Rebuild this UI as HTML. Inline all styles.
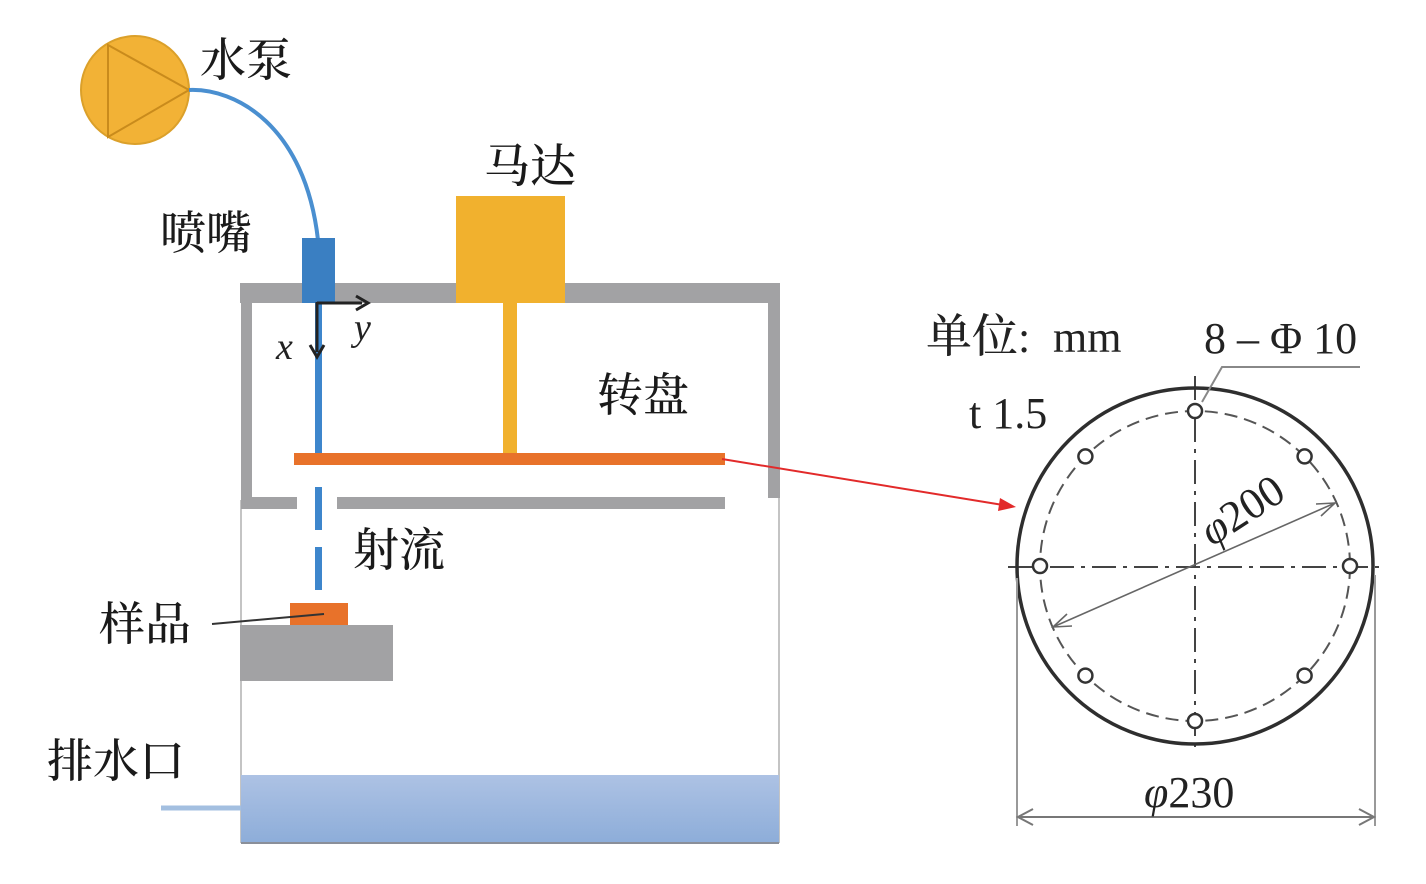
<!DOCTYPE html>
<html><head><meta charset="utf-8"><style>
html,body{margin:0;padding:0;background:#fff;}
svg{display:block;}
.cn{font-family:"Liberation Serif","Noto Serif CJK SC",serif;font-weight:500;font-size:46px;fill:#1a1a1a;}
.lt{font-family:"Liberation Serif","Noto Serif CJK SC",serif;font-size:44px;fill:#222;}
</style></head><body>
<svg width="1426" height="884" viewBox="0 0 1426 884" xmlns="http://www.w3.org/2000/svg">
<defs>
<linearGradient id="wg" x1="0" y1="0" x2="0" y2="1">
<stop offset="0" stop-color="#adc2e4"/><stop offset="1" stop-color="#8dadd9"/>
</linearGradient>
</defs>
<rect width="1426" height="884" fill="#fff"/>

<!-- pump -->
<circle cx="135" cy="90" r="54" fill="#f2b236" stroke="#dba02a" stroke-width="2"/>
<polygon points="108,45 108,137 189,90" fill="none" stroke="#c98b1c" stroke-width="2"/>
<!-- pipe -->
<path d="M189,90 C235,88 305,125 318,240" fill="none" stroke="#4a8fd0" stroke-width="4"/>
<!-- nozzle -->
<rect x="302" y="238" width="33" height="65" fill="#3a7fc2"/>

<!-- tank lower outline -->
<line x1="241" y1="500" x2="241" y2="843" stroke="#c4c4c4" stroke-width="2"/>
<line x1="779" y1="497" x2="779" y2="843" stroke="#c4c4c4" stroke-width="2"/>
<rect x="241" y="775" width="538" height="68" fill="url(#wg)"/>
<line x1="241" y1="843" x2="779" y2="843" stroke="#8a8f99" stroke-width="2"/>
<line x1="161" y1="808" x2="241" y2="808" stroke="#a3bfe0" stroke-width="5"/>

<!-- walls -->
<rect x="240" y="283" width="540" height="20" fill="#a2a2a4"/>
<rect x="241" y="283" width="11" height="220" fill="#a2a2a4"/>
<rect x="768" y="283" width="12" height="215" fill="#a2a2a4"/>
<rect x="241" y="497" width="56" height="12" fill="#a2a2a4"/>
<rect x="337" y="497" width="388" height="12" fill="#a2a2a4"/>
<rect x="302" y="283" width="33" height="20" fill="#3a7fc2"/>

<!-- motor -->
<rect x="456" y="196" width="109" height="107" fill="#f1b12e"/>
<rect x="503" y="303" width="14" height="152" fill="#f1b12e"/>

<!-- jet -->
<rect x="315" y="303" width="7" height="151" fill="#3d86cc"/>
<rect x="315" y="487" width="7" height="43" fill="#3d86cc"/>
<rect x="315" y="547" width="7" height="43" fill="#3d86cc"/>

<!-- disk -->
<rect x="294" y="453" width="431" height="12" fill="#e8722a"/>

<!-- axes -->
<line x1="317" y1="303" x2="362" y2="303" stroke="#222" stroke-width="3"/>
<polyline points="356,296 368,303 356,310" fill="none" stroke="#222" stroke-width="3"/>
<line x1="317" y1="302" x2="317" y2="352" stroke="#222" stroke-width="3"/>
<polyline points="310,345 317,357 324,345" fill="none" stroke="#222" stroke-width="3"/>
<text x="276" y="359" style="font-family:'Liberation Serif',serif;font-style:italic;font-size:38px;fill:#222">x</text>
<text x="354" y="340" style="font-family:'Liberation Serif',serif;font-style:italic;font-size:38px;fill:#222">y</text>

<!-- sample -->
<rect x="240" y="625" width="153" height="56" fill="#a2a2a4"/>
<rect x="290" y="603" width="58" height="22" fill="#e8722a"/>
<line x1="212" y1="624" x2="324" y2="614" stroke="#333" stroke-width="2"/>

<!-- red arrow -->
<line x1="722" y1="459" x2="1003" y2="505" stroke="#e22a2a" stroke-width="2"/>
<polygon points="1016,507 1000,498 998,511" fill="#e22a2a"/>

<!-- labels left -->
<text class="cn" x="200" y="76">水泵</text>
<text class="cn" x="484" y="182">马达</text>
<text class="cn" x="160" y="249">喷嘴</text>
<text class="cn" x="597" y="411">转盘</text>
<text class="cn" x="353" y="566">射流</text>
<text class="cn" x="99" y="640">样品</text>
<text class="cn" x="47" y="777">排水口</text>

<!-- right drawing -->
<line x1="1008" y1="567" x2="1382" y2="567" stroke="#444" stroke-width="2" stroke-dasharray="24 7 4 7"/>
<line x1="1195" y1="376" x2="1195" y2="752" stroke="#444" stroke-width="2" stroke-dasharray="24 7 4 7"/>
<circle cx="1195" cy="566" r="155" fill="none" stroke="#555" stroke-width="2" stroke-dasharray="13 7"/>
<circle cx="1195" cy="566" r="178" fill="none" stroke="#2e2e2e" stroke-width="3.5"/>
<g fill="#fff" stroke="#333" stroke-width="2.5">
<circle cx="1195" cy="411" r="7"/>
<circle cx="1304.6" cy="456.4" r="7"/>
<circle cx="1350" cy="566" r="7"/>
<circle cx="1304.6" cy="675.6" r="7"/>
<circle cx="1195" cy="721" r="7"/>
<circle cx="1085.4" cy="675.6" r="7"/>
<circle cx="1040" cy="566" r="7"/>
<circle cx="1085.4" cy="456.4" r="7"/>
</g>
<!-- phi200 dimension -->
<line x1="1053" y1="627" x2="1335" y2="503" stroke="#666" stroke-width="1.6"/>
<polyline points="1316,504 1335,503 1321,516" fill="none" stroke="#666" stroke-width="1.6"/>
<polyline points="1072,626 1053,627 1067,614" fill="none" stroke="#666" stroke-width="1.6"/>
<text class="lt" transform="translate(1212,547) rotate(-33)"><tspan font-style="italic">φ</tspan>200</text>
<!-- leader 8-phi10 -->
<polyline points="1360,367 1222,367 1202,402" fill="none" stroke="#888" stroke-width="2"/>
<!-- phi230 -->
<line x1="1017" y1="578" x2="1017" y2="826" stroke="#999" stroke-width="2"/>
<line x1="1375" y1="575" x2="1375" y2="826" stroke="#999" stroke-width="2"/>
<line x1="1018" y1="817" x2="1374" y2="817" stroke="#777" stroke-width="2"/>
<polyline points="1033,809 1018,817 1033,825" fill="none" stroke="#777" stroke-width="2"/>
<polyline points="1359,809 1374,817 1359,825" fill="none" stroke="#777" stroke-width="2"/>
<text class="lt" x="1144" y="807"><tspan font-style="italic">φ</tspan>230</text>

<text class="lt" x="926" y="352"><tspan style="font-family:'Liberation Serif','Noto Serif CJK SC',serif;font-weight:500;font-size:46px">单位</tspan>:<tspan x="1053">mm</tspan></text>
<text class="lt" x="1204" y="353">8 – Φ 10</text>
<text class="lt" x="969" y="428">t 1.5</text>
</svg>
</body></html>
